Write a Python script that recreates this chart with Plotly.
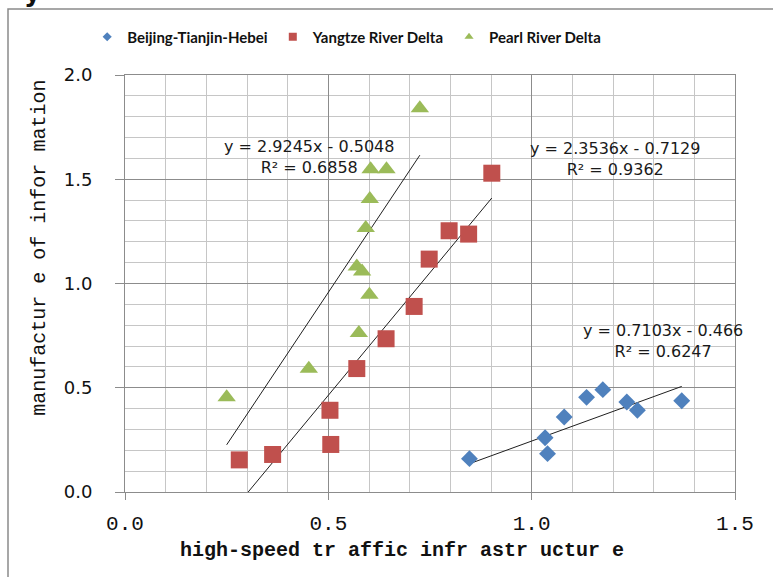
import plotly.graph_objects as go

# ---- data -------------------------------------------------------------
series_names = ["Beijing-Tianjin-Hebei", "Yangtze River Delta", "Pearl River Delta"]

bth_x = [0.847, 1.033, 1.039, 1.080, 1.135, 1.175, 1.234, 1.260, 1.369]
bth_y = [0.160, 0.260, 0.184, 0.360, 0.454, 0.491, 0.432, 0.392, 0.438]

yrd_x = [0.281, 0.363, 0.504, 0.506, 0.570, 0.642, 0.711, 0.748, 0.797, 0.845, 0.902]
yrd_y = [0.154, 0.180, 0.392, 0.228, 0.592, 0.735, 0.890, 1.117, 1.253, 1.237, 1.529]

prd_x = [0.250, 0.452, 0.575, 0.570, 0.583, 0.601, 0.592, 0.602, 0.604, 0.643, 0.725]
prd_y = [0.455, 0.591, 0.763, 1.082, 1.058, 0.946, 1.266, 1.405, 1.548, 1.548, 1.840]

# linear fits: y = slope * x + intercept
trend_slope = [0.7103, 2.3536, 2.9245]
trend_intercept = [-0.466, -0.7129, -0.5048]
trend_r2 = [0.6247, 0.9362, 0.6858]
trend_label_pos = [(1.323, 0.724), (1.206, 1.598), (0.452, 1.608)]

x_ticks = [0.0, 0.5, 1.0, 1.5]
y_ticks = [0.0, 0.5, 1.0, 1.5, 2.0]

# ---- styles -----------------------------------------------------------
colors = ["#4F81BD", "#C0504D", "#9BBB59"]
symbols = ["diamond", "square", "triangle-up"]
sizes = [13, 17, 16]
legend_sizes = [7, 8, 8]

xs = [bth_x, yrd_x, prd_x]
ys = [bth_y, yrd_y, prd_y]

fig = go.Figure()

for i in range(3):
    # trend line over the x-range of the series
    x0, x1 = min(xs[i]), max(xs[i])
    fig.add_trace(go.Scatter(
        x=[x0, x1],
        y=[trend_slope[i] * x0 + trend_intercept[i], trend_slope[i] * x1 + trend_intercept[i]],
        mode="lines", line=dict(color="#1f1f1f", width=1),
        showlegend=False, hoverinfo="skip",
    ))

for i in range(3):
    fig.add_trace(go.Scatter(
        x=xs[i], y=ys[i], mode="markers", name=series_names[i],
        legendgroup=series_names[i], showlegend=False,
        marker=dict(symbol=symbols[i], size=sizes[i], color=colors[i], line=dict(width=0)),
    ))
    # legend entry with smaller symbol
    fig.add_trace(go.Scatter(
        x=[None], y=[None], mode="markers", name=series_names[i],
        legendgroup=series_names[i], showlegend=True,
        marker=dict(symbol=symbols[i], size=legend_sizes[i], color=colors[i], line=dict(width=0)),
    ))

# equation labels
for i in range(3):
    b = trend_intercept[i]
    sign = "-" if b < 0 else "+"
    txt = f"y = {trend_slope[i]}x {sign} {abs(b)}<br>R² = {trend_r2[i]}"
    fig.add_annotation(
        x=trend_label_pos[i][0], y=trend_label_pos[i][1], xref="x", yref="y",
        text=txt, showarrow=False, align="center",
        font=dict(family="DejaVu Sans", size=16, color="#1a1a1a"),
    )

# axis titles
fig.add_annotation(
    x=-0.1393, y=0.586, xref="paper", yref="paper", textangle=-90,
    xanchor="center", yanchor="middle",
    text="manufactur e of infor mation", showarrow=False,
    font=dict(family="Liberation Mono", size=20, color="#111111"),
)
fig.add_annotation(
    x=0.454, y=-0.141, xref="paper", yref="paper",
    xanchor="center", yanchor="middle",
    text="high-speed tr affic infr astr uctur e", showarrow=False,
    font=dict(family="Liberation Mono", size=20, color="#111111", weight="bold"),
)

# caption fragment above the frame
fig.add_annotation(
    x=-0.152, y=1.158, xref="paper", yref="paper", xanchor="center", yanchor="bottom",
    text="y", showarrow=False,
    font=dict(family="DejaVu Sans", size=26, color="#111111", weight="bold"),
)

# outer chart frame
fig.add_shape(
    type="rect", xref="paper", yref="paper",
    x0=-0.1918, x1=1.08, y0=-0.25, y1=1.158,
    line=dict(color="#8a8a8a", width=1.5), fillcolor="rgba(0,0,0,0)",
)

axis_common = dict(
    showgrid=True, gridcolor="#8c8c8c", gridwidth=1,
    showline=True, linecolor="#8c8c8c", linewidth=1, mirror=True,
    ticks="outside", tickcolor="#8c8c8c", zeroline=False,
    tickformat=".1f",
)

fig.update_layout(
    width=773, height=577,
    margin=dict(l=125, r=38, t=75, b=85),
    paper_bgcolor="white", plot_bgcolor="white",
    xaxis=dict(
        range=[0, 1.5], tickvals=x_ticks, ticklen=7,
        minor=dict(dtick=0.1, tick0=0, showgrid=True, gridcolor="#c6c6c6", gridwidth=1, ticks=""),
        tickfont=dict(family="Liberation Mono", size=21, color="#111111"),
        ticklabelstandoff=5,
        **axis_common,
    ),
    yaxis=dict(
        range=[0, 2], tickvals=y_ticks, ticklen=9,
        minor=dict(dtick=0.1, tick0=0, showgrid=True, gridcolor="#c6c6c6", gridwidth=1, ticks=""),
        tickfont=dict(family="DejaVu Sans", size=18, color="#111111"),
        ticklabelstandoff=19,
        **axis_common,
    ),
    legend=dict(
        orientation="h", x=-0.062, xanchor="left", y=1.091, yanchor="middle",
        font=dict(family="Lato", size=15, color="#111111", weight="bold"),
        bgcolor="rgba(0,0,0,0)", borderwidth=0, tracegroupgap=0,
    ),
    showlegend=True,
)

fig.write_html("out.html")
